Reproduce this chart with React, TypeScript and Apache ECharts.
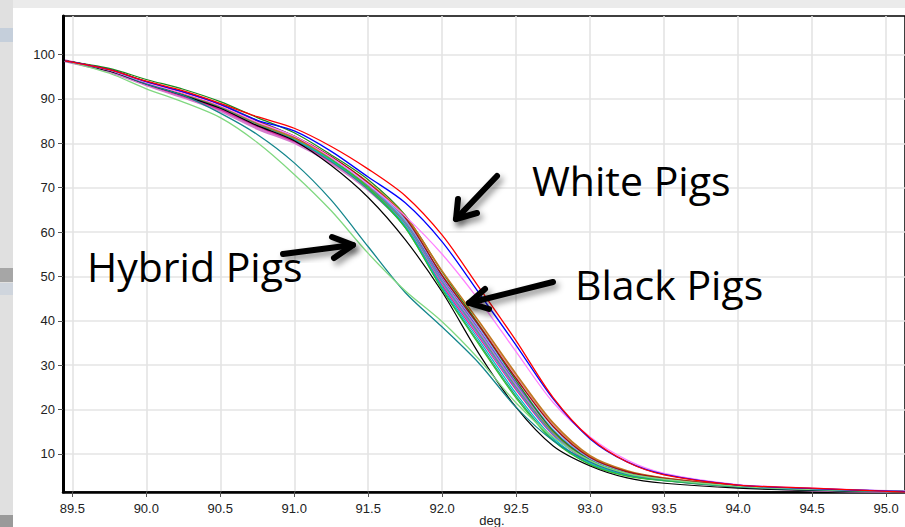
import React, { useEffect, useRef } from "react";
import * as echarts from "echarts";

// temperature grid (deg.)
const temps = [89.45, 89.75, 90.0, 90.25, 90.5, 90.75, 91.0, 91.25, 91.5, 91.75, 92.0, 92.25, 92.5, 92.75, 93.0, 93.25, 93.5, 94.0, 94.5, 95.13];
const xTicks = [89.5, 90.0, 90.5, 91.0, 91.5, 92.0, 92.5, 93.0, 93.5, 94.0, 94.5, 95.0];
const yTicks = [10, 20, 30, 40, 50, 60, 70, 80, 90, 100];

// Black pigs (main cluster)
const blackPigGreen = [98.6, 96.9, 94.4, 92.2, 89.4, 85.8, 82.4, 77.4, 71.8, 63.8, 51.0, 39.0, 26.5, 15.2, 8.6, 5.6, 4.3, 2.7, 1.9, 1.5];
const blackPigDarkRed = [98.6, 96.6, 93.8, 91.4, 88.6, 85.0, 81.6, 77.0, 71.0, 63.2, 50.2, 38.8, 27.0, 16.2, 9.2, 6.0, 4.5, 2.9, 2.1, 1.5];
const blackPigBrown = [98.6, 96.5, 93.7, 91.2, 88.4, 84.6, 81.2, 76.8, 71.2, 63.6, 51.2, 39.8, 28.0, 17.0, 9.6, 6.2, 4.6, 2.9, 2.1, 1.5];
const blackPigViolet = [98.6, 96.4, 93.4, 90.8, 87.8, 84.0, 80.6, 76.0, 70.0, 62.0, 49.0, 37.4, 25.6, 15.0, 8.6, 5.6, 4.3, 2.7, 2.0, 1.5];
const blackPigPinkBand = [98.6, 96.2, 93.2, 90.4, 87.4, 83.4, 80.2, 75.6, 69.6, 61.6, 48.6, 37.0, 25.2, 14.6, 8.4, 5.5, 4.2, 2.7, 1.9, 1.5];
const blackPigMagenta = [98.6, 96.3, 93.3, 90.6, 87.6, 83.8, 80.4, 75.8, 69.8, 61.2, 48.0, 36.2, 24.4, 14.2, 8.2, 5.4, 4.2, 2.7, 1.9, 1.5];
const blackPigCyan = [98.6, 96.5, 93.8, 91.4, 88.6, 84.8, 81.0, 76.2, 70.0, 61.4, 47.6, 35.6, 23.6, 13.6, 7.9, 5.2, 4.1, 2.6, 1.9, 1.5];
const blackPigSteel = [98.6, 96.6, 93.9, 91.6, 88.9, 85.2, 81.6, 76.8, 70.6, 62.2, 48.8, 36.8, 24.8, 14.4, 8.3, 5.4, 4.2, 2.7, 1.9, 1.5];
const blackPigSeaGreen = [98.6, 96.4, 93.6, 91.0, 88.2, 84.4, 80.8, 75.9, 69.6, 61.0, 47.2, 35.0, 23.0, 13.2, 7.7, 5.1, 4.0, 2.6, 1.9, 1.5];
const blackPigLightBlue = [98.6, 96.5, 93.7, 91.3, 88.5, 84.7, 81.3, 76.6, 70.8, 62.8, 50.0, 38.4, 26.4, 15.6, 9.0, 5.9, 4.5, 2.8, 2.0, 1.5];
const blackPigRose = [98.6, 96.4, 93.5, 91.0, 88.1, 84.2, 80.9, 76.3, 70.4, 62.6, 50.4, 39.2, 27.6, 16.6, 9.4, 6.1, 4.6, 2.9, 2.1, 1.5];
const blackPigPurple = [98.6, 96.3, 93.4, 90.9, 88.0, 84.1, 80.7, 76.1, 70.2, 62.3, 49.6, 38.0, 26.0, 15.4, 8.8, 5.7, 4.3, 2.8, 2.0, 1.5];
const blackPigOlive = [98.6, 96.5, 93.6, 91.1, 88.3, 84.5, 81.1, 76.4, 70.3, 62.0, 48.8, 37.0, 25.0, 14.8, 8.5, 5.6, 4.3, 2.7, 2.0, 1.5];
const blackPigBrightGreen = [98.6, 96.6, 93.9, 91.5, 88.8, 85.1, 81.5, 76.4, 70.0, 61.0, 47.0, 34.6, 22.6, 13.0, 7.6, 5.0, 4.0, 2.6, 1.9, 1.4];
const blackPigBlack = [98.6, 96.3, 93.4, 90.8, 87.9, 84.0, 80.6, 75.0, 67.8, 58.3, 46.5, 32.5, 20.5, 11.8, 7.3, 4.6, 3.4, 2.3, 1.8, 1.4];

// White pigs
const whitePigRed = [98.6, 96.6, 94.0, 91.8, 89.0, 86.0, 83.4, 79.3, 74.2, 68.2, 59.3, 47.5, 35.5, 22.7, 13.6, 8.2, 5.3, 3.0, 2.3, 1.4];
const whitePigBlue = [98.6, 96.6, 93.9, 91.6, 88.8, 85.2, 82.8, 78.2, 72.4, 66.6, 57.8, 46.2, 34.5, 22.4, 13.4, 8.2, 5.4, 3.0, 2.2, 1.5];
const whitePigPink = [98.6, 96.5, 93.7, 91.3, 88.5, 84.8, 81.6, 76.8, 70.8, 63.6, 55.0, 44.6, 33.0, 21.6, 13.8, 8.6, 5.6, 3.1, 2.3, 1.5];

// Hybrid pigs
const hybridTeal = [98.6, 96.5, 93.4, 90.8, 86.8, 82.0, 75.6, 67.2, 56.7, 46.4, 38.6, 30.4, 20.5, 13.0, 8.2, 5.4, 4.2, 2.6, 1.9, 1.5];
const hybridLightGreen = [98.6, 95.8, 92.3, 89.3, 85.8, 80.2, 73.0, 64.8, 55.2, 46.8, 39.8, 31.3, 21.5, 13.8, 8.5, 5.6, 4.3, 2.7, 2.0, 1.5];

const curves = [
  { name: "Black pig A", data: blackPigPinkBand, color: "#d47ccc", width: 3 },
  { name: "Black pig B", data: blackPigViolet, color: "#9a8ae6", width: 2.2 },
  { name: "Black pig C", data: blackPigMagenta, color: "#e0209a", width: 1.2 },
  { name: "Black pig D", data: blackPigPurple, color: "#8040c0", width: 1.2 },
  { name: "Black pig E", data: blackPigRose, color: "#e08080", width: 1.2 },
  { name: "Black pig F", data: blackPigOlive, color: "#909020", width: 1.2 },
  { name: "Black pig G", data: blackPigSeaGreen, color: "#20a080", width: 1.2 },
  { name: "Black pig H", data: blackPigCyan, color: "#00b8c8", width: 1.2 },
  { name: "Black pig I", data: blackPigSteel, color: "#4a90d8", width: 1.2 },
  { name: "Black pig J", data: blackPigLightBlue, color: "#6cb0ff", width: 1.2 },
  { name: "Black pig K", data: blackPigBrightGreen, color: "#30c030", width: 1.2 },
  { name: "Black pig L", data: blackPigGreen, color: "#1a8a1a", width: 1.2 },
  { name: "Black pig M", data: blackPigBrown, color: "#c07820", width: 1.6 },
  { name: "Black pig N", data: blackPigDarkRed, color: "#a01010", width: 1.4 },
  { name: "Black pig O", data: blackPigBlack, color: "#000000", width: 1.2 },
  { name: "Hybrid teal", data: hybridTeal, color: "#14868c", width: 1.3 },
  { name: "Hybrid light green", data: hybridLightGreen, color: "#80d880", width: 1.3 },
  { name: "White pink", data: whitePigPink, color: "#ff80ff", width: 1.3 },
  { name: "White blue", data: whitePigBlue, color: "#0000ff", width: 1.3 },
  { name: "White red", data: whitePigRed, color: "#ff0000", width: 1.3 },
];

function arrow(tail: number[], tip: number[], a1: number[], a2: number[]) {
  const style = {
    stroke: "#000",
    lineWidth: 6,
    fill: null,
    lineCap: "round",
    lineJoin: "round",
    shadowBlur: 6,
    shadowColor: "rgba(0,0,0,0.45)",
    shadowOffsetX: 3,
    shadowOffsetY: 4,
  };
  return [
    { type: "polyline", z: 100, shape: { points: [tail, tip] }, style },
    { type: "polyline", z: 100, shape: { points: [a1, tip, a2] }, style },
  ];
}

export default function App() {
  const ref = useRef<HTMLDivElement>(null);
  useEffect(() => {
    if (!ref.current) return;
    const chart = echarts.init(ref.current, undefined, { renderer: "svg" });
    const labelFont = "'Liberation Sans', Arial, sans-serif";
    const bigFont = "41px 'Open Sans', sans-serif";
    chart.setOption({
      animation: false,
      backgroundColor: "#ffffff",
      grid: {
        left: 63,
        top: 16,
        right: -6,
        bottom: 35,
        show: true,
        borderColor: "#000",
        borderWidth: 1.5,
      },
      xAxis: {
        type: "value",
        min: 89.437,
        max: 95.128,
        axisLine: { show: true, onZero: false, lineStyle: { color: "#000", width: 2.5 } },
        axisTick: { show: true, customValues: xTicks, length: 5, lineStyle: { color: "#555" } },
        axisLabel: {
          customValues: xTicks,
          formatter: (v: number) => v.toFixed(1),
          fontSize: 13,
          color: "#222",
          fontFamily: labelFont,
          margin: 10,
        },
        splitLine: { show: true, lineStyle: { color: "#e4e4e4", width: 1.6 } },
      },
      yAxis: {
        type: "value",
        min: 1.43,
        max: 108.7,
        axisLine: { show: true, onZero: false, lineStyle: { color: "#000", width: 3 } },
        axisTick: { show: true, customValues: yTicks, length: 5, lineStyle: { color: "#555" } },
        axisLabel: {
          customValues: yTicks,
          fontSize: 13,
          color: "#222",
          fontFamily: labelFont,
          margin: 8,
        },
        splitLine: { show: true, lineStyle: { color: "#e4e4e4", width: 1.6 } },
      },
      series: curves.map((c) => ({
        type: "line",
        name: c.name,
        data: temps.map((t, i) => [t, c.data[i]]),
        symbol: "none",
        smooth: 0.3,
        lineStyle: { color: c.color, width: c.width },
        silent: true,
      })),
      graphic: [
        { type: "rect", z: -10, silent: true, shape: { x: 0, y: 0, width: 905, height: 8 }, style: { fill: "#ebebeb" } },
        { type: "rect", z: -10, silent: true, shape: { x: 0, y: 0, width: 13, height: 527 }, style: { fill: "#e0e0e0" } },
        { type: "rect", z: -9, silent: true, shape: { x: 0, y: 28, width: 13, height: 14 }, style: { fill: "#c5cfdb" } },
        { type: "rect", z: -9, silent: true, shape: { x: 0, y: 268, width: 13, height: 14 }, style: { fill: "#a6a6a6" } },
        { type: "rect", z: -9, silent: true, shape: { x: 0, y: 283, width: 13, height: 12 }, style: { fill: "#cfd5dd" } },
        { type: "rect", z: -9, silent: true, shape: { x: 0, y: 515, width: 13, height: 12 }, style: { fill: "#9a9a9a" } },
        {
          type: "text",
          z: 100,
          style: { text: "deg.", x: 492, y: 520, align: "center", verticalAlign: "middle", font: "13px " + labelFont, fill: "#222" },
        },
        {
          type: "text",
          z: 100,
          style: { text: "White Pigs", x: 532, y: 180, align: "left", verticalAlign: "middle", font: bigFont, fill: "#000" },
        },
        {
          type: "text",
          z: 100,
          style: { text: "Black Pigs", x: 575, y: 284, align: "left", verticalAlign: "middle", font: bigFont, fill: "#000" },
        },
        {
          type: "text",
          z: 100,
          style: { text: "Hybrid Pigs", x: 87, y: 266, align: "left", verticalAlign: "middle", font: bigFont, fill: "#000" },
        },
        ...arrow([497, 176], [456, 219], [458, 199], [477, 213]),
        ...arrow([283, 254], [353, 245], [332, 237], [334, 258]),
        ...arrow([553, 282], [469, 303], [485, 289], [489, 309]),
      ],
    });
    return () => chart.dispose();
  }, []);
  return (
    <div
      ref={ref}
      style={{ position: "fixed", left: 0, top: 0, width: 905, height: 527, background: "#fff" }}
    />
  );
}
